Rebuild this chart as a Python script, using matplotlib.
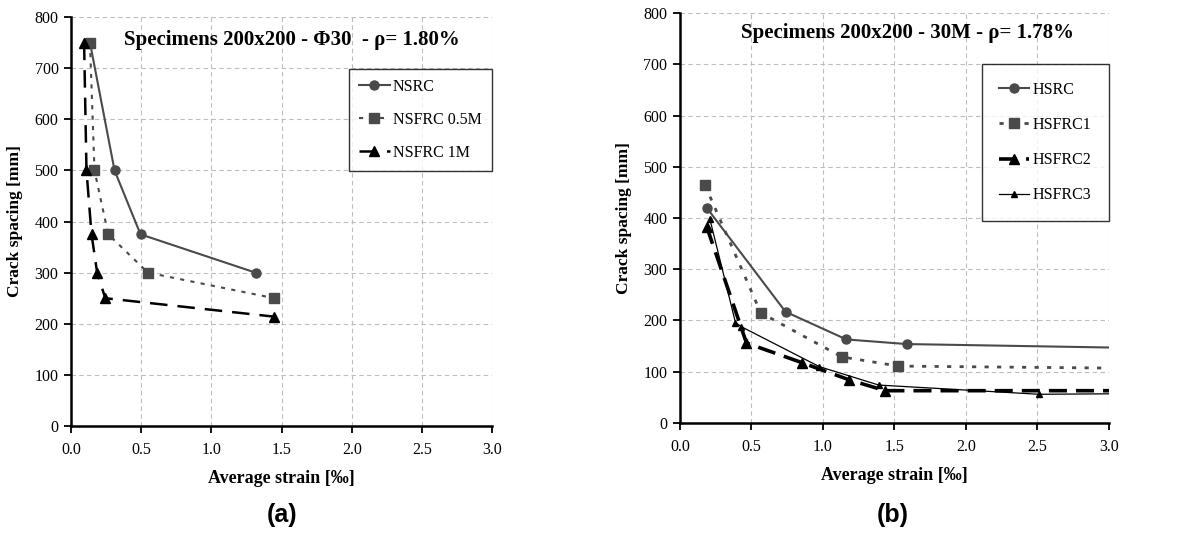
import matplotlib
matplotlib.use("Agg")
import matplotlib.pyplot as plt

#### Donnees ####

# (a) Specimens 200x200 - Phi30
nsrc_x = [0.135, 0.31, 0.495, 1.315]
nsrc_y = [750, 500, 375, 300]
nsfrc05_x = [0.135, 0.167, 0.265, 0.548, 1.448]
nsfrc05_y = [750, 500, 375, 300, 250]
nsfrc1_x = [0.093, 0.11, 0.146, 0.186, 0.244, 1.445]
nsfrc1_y = [750, 500, 375, 300, 250, 214]

# (b) Specimens 200x200 - 30M
hsrc_x = [0.187, 0.738, 1.164, 1.586, 3.06]
hsrc_y = [420, 217, 163, 154, 147]
hsfrc1_x = [0.175, 0.565, 1.131, 1.528, 3.06]
hsfrc1_y = [464, 215, 129, 111, 107]
hsfrc2_x = [0.187, 0.465, 0.85, 1.185, 1.435, 3.06]
hsfrc2_y = [383, 156, 118, 84, 63, 63]
hsfrc3_x = [0.208, 0.388, 0.428, 0.974, 1.39, 2.51, 3.06]
hsfrc3_y = [399, 196, 188, 110, 74, 56, 57]

xticks = [0.0, 0.5, 1.0, 1.5, 2.0, 2.5, 3.0]
yticks = [0, 100, 200, 300, 400, 500, 600, 700, 800]

plt.rcParams['font.family'] = ['Liberation Serif', 'DejaVu Serif']

fig = plt.figure(figsize=(11.94, 5.38), dpi=100)
ax1 = fig.add_axes([0.0595, 0.2082, 0.3526, 0.760])
ax2 = fig.add_axes([0.5695, 0.2138, 0.3593, 0.762])

gris = '#4a4a4a'


def habillage(ax):
    ax.set_xlim(0, 3.0)
    ax.set_ylim(0, 800)
    ax.set_xticks(xticks)
    ax.set_xticklabels([f"{v:.1f}" for v in xticks])
    ax.set_yticks(yticks)
    ax.tick_params(labelsize=11.5, direction='out', length=5, width=1.3)
    ax.tick_params(axis='x', pad=6.5)
    ax.tick_params(axis='y', pad=4)
    for s in ['top', 'right']:
        ax.spines[s].set_visible(False)
    for s in ['left', 'bottom']:
        ax.spines[s].set_linewidth(1.8)
    ax.grid(True, color='#bdbdbd', linestyle=(0, (4, 3)), linewidth=0.8)
    ax.set_axisbelow(True)
    ax.set_xlabel("Average strain [‰]", fontsize=13, fontweight='bold', labelpad=9)
    ax.set_ylabel("Crack spacing [mm]", fontsize=12.5, fontweight='bold', labelpad=8)


# (a)
ax1.plot(nsrc_x, nsrc_y, color=gris, lw=1.5, marker='o', ms=6.5, label="NSRC")
ax1.plot(nsfrc05_x, nsfrc05_y, color=gris, lw=1.5, ls=(0, (2, 3)), marker='s', ms=6.5,
         label="NSFRC 0.5M")
ax1.plot(nsfrc1_x, nsfrc1_y, color='black', lw=1.8, ls=(0, (7, 4)), marker='^', ms=6.5,
         label="NSFRC 1M")
habillage(ax1)
ax1.text(0.525, 0.944, "Specimens 200x200 - Φ30  - ρ= 1.80%", transform=ax1.transAxes,
         ha='center', va='center', fontsize=15, fontweight='bold')
leg = ax1.legend(loc='upper right', bbox_to_anchor=(1.0, 0.874), fontsize=11.5, frameon=True,
                 fancybox=False, edgecolor='black', handlelength=1.9, handletextpad=0.2,
                 labelspacing=1.06, borderpad=0.65, borderaxespad=0)
leg.get_frame().set_linewidth(1.0)

# (b)
ax2.plot(hsrc_x, hsrc_y, color=gris, lw=1.5, marker='o', ms=6.5, label="HSRC")
ax2.plot(hsfrc1_x, hsfrc1_y, color=gris, lw=2.0, ls=(0, (1.5, 3)), marker='s', ms=6.5,
         label="HSFRC1")
ax2.plot(hsfrc2_x, hsfrc2_y, color='black', lw=2.6, ls=(0, (5, 2.5)), marker='^', ms=7,
         label="HSFRC2")
ax2.plot(hsfrc3_x, hsfrc3_y, color='black', lw=0.9, marker='^', ms=4.5, label="HSFRC3")
habillage(ax2)
ax2.text(0.53, 0.951, "Specimens 200x200 - 30M - ρ= 1.78%", transform=ax2.transAxes,
         ha='center', va='center', fontsize=15, fontweight='bold')
leg = ax2.legend(loc='upper right', bbox_to_anchor=(1.0, 0.875), fontsize=11.5, frameon=True,
                 fancybox=False, edgecolor='black', handlelength=1.9, handletextpad=0.2,
                 labelspacing=1.2, borderpad=1.1, borderaxespad=0)
leg.get_frame().set_linewidth(1.0)

fig.text(0.236, 0.043, "(a)", ha='center', va='center', fontsize=18, fontweight='bold',
         family='Liberation Sans')
fig.text(0.748, 0.043, "(b)", ha='center', va='center', fontsize=18, fontweight='bold',
         family='Liberation Sans')

fig.savefig("out.png", dpi=100)
